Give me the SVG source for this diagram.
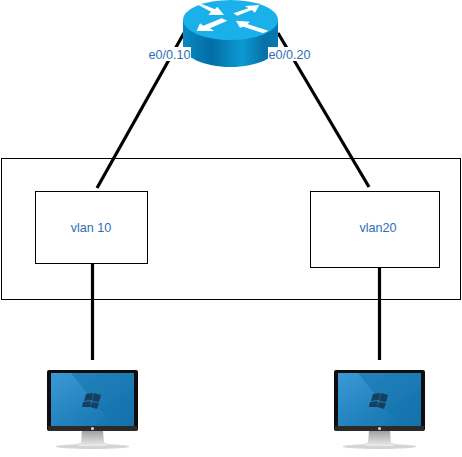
<svg xmlns="http://www.w3.org/2000/svg" width="462" height="457" viewBox="0 0 462 457">
<style>
.box{fill:#fff;stroke:#000;stroke-width:1}
.c{stroke:#000;stroke-width:3.2;fill:none}
.t{font-family:"Liberation Sans",Arial,sans-serif;font-size:12.6px;fill:#2f6db5;text-anchor:middle}
.arrow{fill:#fff}
</style>
<defs>
<linearGradient id="side" x1="0" x2="1" y1="0" y2="0">
<stop offset="0" stop-color="#0a88c2"/><stop offset=".3" stop-color="#036ea6"/><stop offset=".62" stop-color="#0e9ad2"/><stop offset=".85" stop-color="#0672aa"/><stop offset="1" stop-color="#0a78b0"/>
</linearGradient>
<linearGradient id="screen" x1="0" y1="0" x2="1" y2="1">
<stop offset="0" stop-color="#3a9ad6"/><stop offset="1" stop-color="#0f6ea8"/>
</linearGradient>
<linearGradient id="stand" x1="0" x2="0" y1="0" y2="1">
<stop offset="0" stop-color="#a0a0a0"/><stop offset="1" stop-color="#ececec"/>
</linearGradient>
<filter id="soft" x="-5%" y="-5%" width="110%" height="110%"><feGaussianBlur stdDeviation="0.45"/></filter>
<g id="monitor" filter="url(#soft)">
<ellipse cx="45.500" cy="76.500" rx="37" ry="2.500" fill="#d4d4d4"/>
<path d="M35 61h21l1 12h3v3H31v-3h3z" fill="url(#stand)"/>
<rect x="0" y="0" width="91" height="61" rx="2" fill="#111"/>
<rect x="1" y="56" width="89" height="5" fill="#2a2a2a"/>
<rect x="4" y="3" width="83" height="53" fill="url(#screen)"/>
<path d="M24 3h63v53H66z" fill="#1672ac" opacity=".55"/>
<path d="M39 24l7-1-1 7-8 1zM47 23l7 2-2 7-7-1zM36 32l8-1-1 6-8 0zM45 32l7 1-2 6-7-2z" fill="#163f60"/>
<circle cx="45.500" cy="58.500" r="1.500" fill="#ddd"/>
</g>
</defs>
<rect class="box" x="1.500" y="158.500" width="459" height="141"/>
<g id="connectors">
<line class="c" x1="97" y1="188" x2="184" y2="33"/>
<line class="c" x1="369" y1="187" x2="278" y2="33"/>
<line class="c" x1="92.500" y1="264" x2="92.500" y2="360"/>
<line class="c" x1="379.500" y1="268" x2="379.500" y2="360"/>
</g>
<g id="router">
<path d="M183 20v26c0 11 21 21 47.500 21s47.500-10 47.500-21V20z" fill="url(#side)"/>
<ellipse cx="230.500" cy="20" rx="47.500" ry="20" fill="#1ab0ea"/>
<g transform="translate(140 0) scale(.3333)">
<path class="arrow" d="M175 15l10-3 40 16 7-8 20 25h-47l8-10z"/>
<path class="arrow" d="M280 40l45-15-10-7 43-3-13 23-10-8-43 17z"/>
<path class="arrow" d="M170 93l10-23 10 7 55-22 17 7-52 23 12 8z"/>
<path class="arrow" d="M288 62l42 3-8 7 63 20-15 8-60-20-10 3z"/>
</g>
</g>
<rect x="148" y="47" width="43" height="14" fill="#fff"/>
<rect x="268" y="47" width="43" height="14" fill="#fff"/>
<text class="t" x="169.500" y="59">e0/0.10</text>
<text class="t" x="289.500" y="59">e0/0.20</text>
<g id="vlan10">
<rect class="box" x="35.500" y="191.500" width="112" height="72"/>
<text class="t" x="91" y="232">vlan 10</text>
</g>
<g id="vlan20">
<rect class="box" x="310.500" y="191.500" width="129" height="76"/>
<text class="t" x="378" y="232">vlan20</text>
</g>
<g id="pc1"><use href="#monitor" x="47" y="370"/></g>
<g id="pc2"><use href="#monitor" x="334" y="370"/></g>
</svg>
